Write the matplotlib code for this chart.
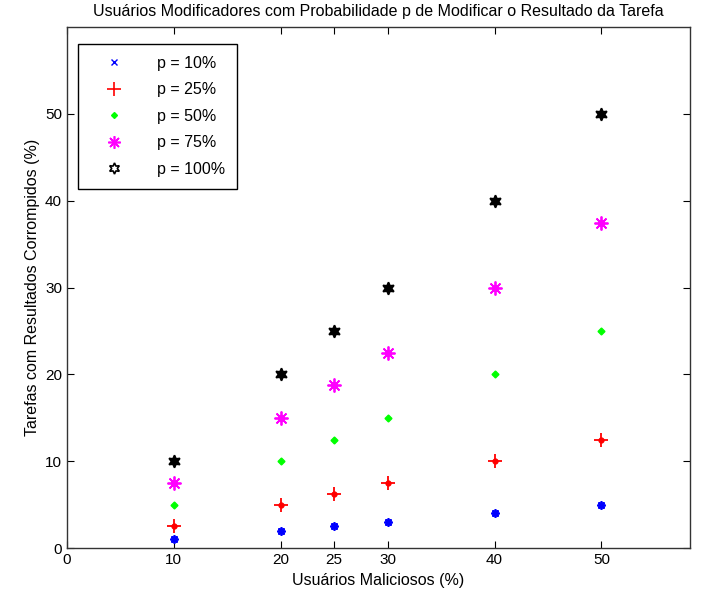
import numpy as np
import matplotlib.pyplot as plt
from matplotlib.lines import Line2D

# Usuarios maliciosos (%)
maliciosos = [10, 20, 25, 30, 40, 50]

# Tarefas corrompidas (%) para cada probabilidade p
p10 = [1.0, 2.0, 2.5, 3.0, 4.0, 5.0]
p25 = [2.5, 5.0, 6.25, 7.5, 10.0, 12.5]
p50 = [5.0, 10.0, 12.5, 15.0, 20.0, 25.0]
p75 = [7.5, 15.0, 18.75, 22.5, 30.0, 37.5]
p100 = [10.0, 20.0, 25.0, 30.0, 40.0, 50.0]

labels = ['p = 10%', 'p = 25%', 'p = 50%', 'p = 75%', 'p = 100%']
xticks = [0, 10, 20, 25, 30, 40, 50]
yticks = [0, 10, 20, 30, 40, 50]

plt.rcParams['font.family'] = ['Liberation Sans', 'DejaVu Sans']

fig = plt.figure(figsize=(7.05, 6.03), dpi=100)
ax = fig.add_axes([0.095, 0.091, 0.884, 0.864])

blue, red, green, mag = (0, 0, 1), (1, 0, 0), (0, 1, 0), (1, 0, 1)

# dados (varias rodadas sobrepostas deixam os marcadores mais "cheios")
ax.plot(maliciosos, p10, marker=(8, 2, 0), color=blue, ms=6, mew=1.3, ls='none')
ax.plot(maliciosos, p10, 'o', color=blue, ms=3.5, ls='none')
ax.plot(maliciosos, p25, '+', color=red, ms=10, mew=1.3, ls='none')
ax.plot(maliciosos, p25, 'o', color=red, ms=3.5, ls='none')
ax.plot(maliciosos, p50, 'D', color=green, ms=3.5, ls='none')
ax.plot(maliciosos, p75, marker=(8, 2, 0), color=mag, ms=10, mew=1.3, ls='none')
ax.plot(maliciosos, p75, 'o', color=mag, ms=4, ls='none')
ax.plot(maliciosos, p100, marker=(6, 1, 0), color='k', ms=9, mew=1.2, ls='none')

ax.set_xlim(0, 58.3)
ax.set_ylim(0, 60)
ax.set_xticks(xticks)
ax.set_yticks(yticks)
ax.tick_params(direction='in', top=True, right=True, labelsize=11, length=5)
for s in ax.spines.values():
    s.set_linewidth(1.0)
    s.set_color('#333333')

ax.set_title('Usuários Modificadores com Probabilidade p de Modificar o Resultado da Tarefa',
             fontsize=11.5, pad=8)
ax.set_xlabel('Usuários Maliciosos (%)', fontsize=11.5)
ax.set_ylabel('Tarefas com Resultados Corrompidos (%)', fontsize=11.5)

handles = [
    Line2D([], [], marker='x', color=blue, ms=5, mew=1.0, ls='none'),
    Line2D([], [], marker='+', color=red, ms=10, mew=1.2, ls='none'),
    Line2D([], [], marker='D', color=green, ms=3, ls='none'),
    Line2D([], [], marker=(8, 2, 0), color=mag, ms=9, mew=1.2, ls='none'),
    Line2D([], [], marker=(6, 1, 0), color='k', mfc='none', ms=8, mew=1.2, ls='none'),
]
leg = ax.legend(handles, labels, loc='upper left', bbox_to_anchor=(0.018, 0.968),
                fontsize=11.5, fancybox=False, framealpha=1, edgecolor='k',
                borderaxespad=0, handlelength=3.0, handletextpad=1.2,
                labelspacing=0.72, borderpad=0.75)
leg.get_frame().set_linewidth(1.0)

fig.savefig('out.png', dpi=100)
